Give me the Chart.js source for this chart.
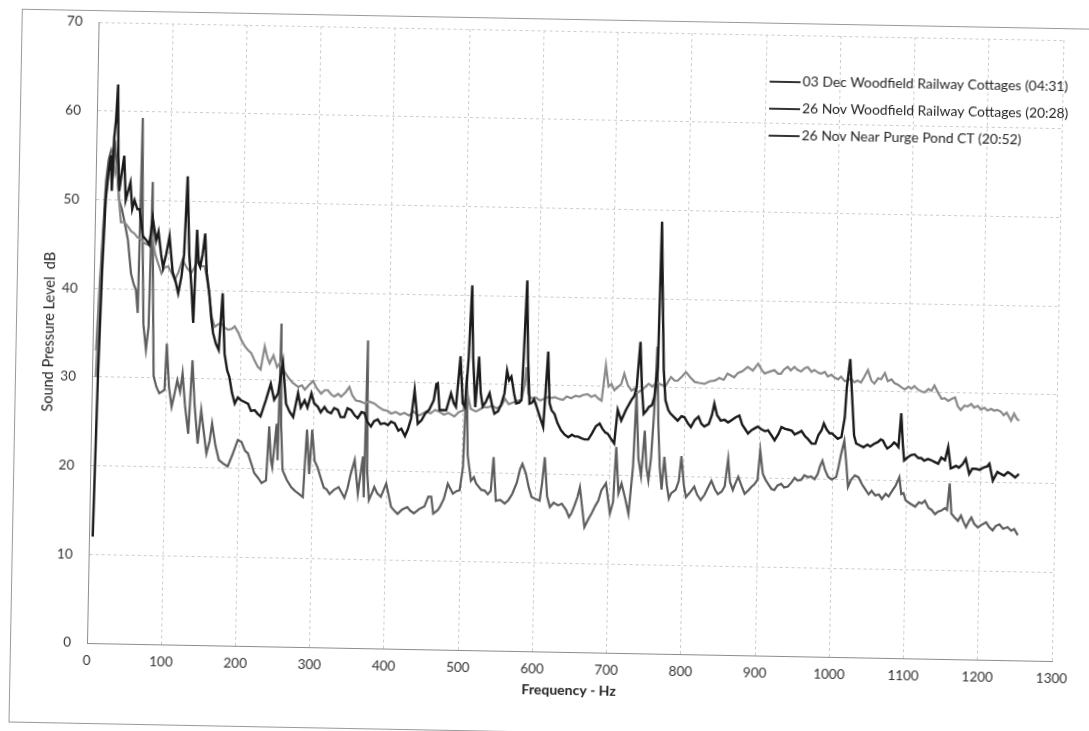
<!DOCTYPE html>
<html>
<head>
<meta charset="utf-8">
<title>Sound Pressure Level - Frequency</title>
<script src="https://cdn.jsdelivr.net/npm/chart.js@4.4.0/dist/chart.umd.min.js"></script>
<style>
  html, body { margin: 0; padding: 0; background: #fff; overflow: hidden; }
  /* the scanned chart sits slightly rotated on the page */
  #frame {
    position: absolute; left: 10px; top: 10px;
    width: 1100px; height: 712px;
    border: 1px solid #9a9a9a;
    background: #fff;
    transform-origin: 77px 633px;
    transform: rotate(1.07deg);
  }
</style>
</head>
<body>
<div id="frame"><canvas id="myChart" width="1100" height="712"></canvas></div>
<script>
'use strict';

const seriesNames = [
  '03 Dec Woodfield Railway Cottages (04:31)',
  '26 Nov Woodfield Railway Cottages (20:28)',
  '26 Nov Near Purge Pond CT (20:52)'
];

const xTicks = [0, 100, 200, 300, 400, 500, 600, 700, 800, 900, 1000, 1100, 1200, 1300];
const yTicks = [0, 10, 20, 30, 40, 50, 60, 70];

// [frequency Hz, level dB]
const dec03 = [
  [5,12],[8,30],[11,42],[14,50],[17,53],[20,55],[22,51],[24,57],[26,59],[28,63],[30,55],[32,51],
  [35,53],[38,55],[41,50],[44,51],[47,52],[50,49],[53,50],[57,49],[60,49],[65,46],[70,45.5],[74,45],
  [78,48],[83,45.5],[86,46.5],[90,44],[93,42.5],[97,44],[101,46],[106,42],[110,41],[114,39.6],[118,41.5],
  [121,44],[124,52.8],[128,44],[132,40],[135,36.3],[138,46.8],[141,43],[143,42.6],[146,44],[149,46.4],
  [152,42],[156,39.6],[159,37],[162,35.2],[166,34],[170,33.3],[174,39.7],[178,32.9],[182,31],[185,30.3],
  [189,28.5],[193,27.3],[197,28],[201,27.7],[206,27.5],[211,27.3],[215,26.5],[220,26.6],[224,26.2],
  [228,25.9],[235,27.8],[241,29.6],[246,27.8],[251,28.5],[257,32],[262,27.4],[267,26.5],[272,25.9],
  [278,28.6],[282,27],[287,27.8],[291,27],[296,28.6],[300,27.5],[305,27.1],[309,26.5],[314,27.1],
  [318,26.6],[323,26.4],[327,27],[332,26.8],[336,26],[341,26],[345,27],[350,26.8],[355,26.2],[359,25.9],
  [364,26.6],[368,26.5],[372,25.5],[377,25],[381,25.6],[386,25.8],[390,25.3],[395,25.4],[400,25.2],
  [404,25.6],[409,25.4],[414,24.6],[418,24.8],[423,24],[427,24.8],[431,26],[435,29.2],[440,25.4],
  [445,25.8],[450,26.6],[455,27],[461,28.1],[464,29.9],[466,30],[469,27],[473,27],[478,27],[484,28.9],
  [488,27.8],[491,27.4],[496,33.1],[500,27.8],[503,27.4],[507,33],[510,41.1],[513,33],[517,27.4],
  [521,33.1],[524,29],[527,27.5],[531,28],[536,29],[540,27.5],[543,26.7],[548,27],[552,27.8],[556,29],
  [559,31.6],[562,30.5],[565,30.9],[569,29],[572,27.9],[576,28],[579,28.3],[581,33],[584,41.8],[587,33],
  [590,27.9],[593,28],[596,28.4],[600,27.5],[604,26.5],[609,25.3],[614,33.8],[617,28],[620,27.2],
  [624,26.8],[628,25.8],[633,25],[638,24.5],[643,24.2],[648,24.5],[652,24.3],[656,24.3],[661,24.1],
  [665,24],[670,24],[675,24.7],[680,25.5],[685,25.8],[689,25.2],[693,24.8],[696,24.7],[700,24.2],
  [705,23.6],[709,27.4],[714,26.2],[720,27.4],[727,28.5],[731,29],[734,30],[738,35.1],[741,30],[744,27],
  [748,27.4],[751,27.8],[755,28],[758,28.9],[762,32.3],[764,48.7],[767,40],[770,32],[773,28.6],[777,27.5],
  [780,27.1],[785,26.7],[790,26.3],[795,26.8],[799,26.7],[804,26],[808,25.6],[813,26.4],[818,26.8],
  [822,26],[826,25.7],[832,26],[836,27],[839,28.3],[843,27],[848,26.4],[853,26.5],[858,26.2],[863,26.5],
  [868,26.8],[873,27],[877,26],[881,25.5],[885,25],[890,25.4],[894,25.6],[898,25.8],[903,25.5],[908,25.3],
  [912,25.4],[917,24.8],[921,24.3],[926,25],[930,25.8],[935,25.6],[940,25.5],[944,25.4],[948,25],
  [953,25.2],[957,25.4],[962,24.8],[966,24.5],[971,24],[976,24],[980,25],[984,25.5],[987,26.3],[991,25.6],
  [995,25.2],[998,25.2],[1002,24.9],[1006,24.6],[1011,24.8],[1015,27],[1017,30.4],[1021,33.6],[1025,28.6],
  [1028,25],[1031,24.1],[1036,23.9],[1041,23.7],[1046,24],[1050,23.8],[1055,24.1],[1060,24.3],[1064,24.6],
  [1067,24.5],[1070,24],[1073,23.6],[1078,23.9],[1082,24.3],[1085,24.1],[1088,23.8],[1091,27.6],[1094,24],
  [1096,22.3],[1100,22.6],[1105,22.9],[1110,23],[1115,22.6],[1119,22.6],[1123,22.3],[1128,22.5],
  [1132,22.4],[1137,22.2],[1142,22],[1146,22.7],[1151,22.4],[1155,23.9],[1159,21.5],[1162,21.6],
  [1166,21.8],[1170,21.6],[1175,22],[1179,22.6],[1184,20.9],[1188,21.5],[1193,21.5],[1198,21.4],
  [1204,21.7],[1208,21.8],[1211,22.1],[1216,20.2],[1222,21.2],[1226,21],[1231,20.8],[1236,21.2],
  [1240,21],[1246,20.6],[1251,21]
];

const nov26Woodfield = [
  [5,30],[8,38],[11,45],[14,50],[17,53],[20,54.5],[23,55.5],[26,53],[29,54],[32,50],[35,47.5],[40,47.5],
  [45,47],[49,46.5],[53,46.3],[58,45.8],[63,45.6],[67,45.2],[72,45],[77,46.3],[82,44],[86,43],[91,41.8],
  [95,42.5],[100,42.6],[104,42],[109,41.1],[114,42],[119,43.4],[125,42.5],[131,41.9],[135,42.5],[140,43.4],
  [145,42.7],[149,42.7],[153,41],[157,38.9],[160,37],[164,35.9],[169,36.2],[173,36.3],[178,35.8],[182,35.6],
  [187,35.7],[191,36],[196,35.3],[200,34.5],[205,33.8],[209,33.4],[214,33],[218,32.3],[223,31.5],[227,31.2],
  [232,33.8],[236,32.5],[239,31.9],[244,32.8],[249,31.5],[253,32],[259,31],[264,30.4],[270,29.8],[278,29.3],
  [283,29.5],[287,29],[292,29.5],[298,30],[303,29.2],[309,28.6],[314,29],[318,29],[323,28.5],[327,28.3],
  [332,28.6],[336,28.3],[342,28.8],[347,29.4],[351,28.5],[356,27.9],[362,27.8],[368,27.6],[374,27.8],
  [381,27.6],[387,27.2],[393,26.9],[399,26.8],[404,26.5],[410,26.7],[416,26.4],[422,26.6],[428,26.3],
  [434,26.8],[440,26.3],[445,26.5],[451,26.8],[457,26.6],[463,27],[469,26.8],[475,26.5],[481,26.7],
  [489,26.3],[495,26.8],[501,27],[506,29],[511,27.2],[518,26.9],[524,27.2],[528,27.4],[534,27.4],
  [540,27.6],[546,27.3],[552,27.6],[557,28.4],[562,27.8],[568,28],[573,28.2],[579,28.3],[583,30],
  [585,32],[588,29],[592,28.5],[598,28.6],[604,28.3],[610,28.5],[615,28.7],[620,28.6],[624,28.7],
  [630,28.5],[635,28.4],[640,28.8],[646,28.6],[652,28.9],[657,28.8],[662,29],[668,29.1],[673,28.8],
  [678,29],[683,28.6],[687,28.4],[692,32.4],[696,30],[700,30.3],[704,29.6],[709,30],[713,30.3],
  [717,31.5],[722,30.2],[727,29.6],[731,29.8],[736,29.4],[741,29.7],[745,30],[750,30.4],[755,30.1],
  [761,30.6],[767,30.3],[773,30.2],[777,30.8],[780,31.2],[785,30.8],[789,30.8],[795,31.3],[800,31.8],
  [806,31.2],[812,30.7],[818,30.6],[825,30.5],[832,30.8],[839,30.9],[845,31.2],[851,31],[856,31.7],
  [865,31.3],[870,31.8],[876,32],[883,32.5],[890,32.1],[897,32.9],[902,32.2],[906,31.8],[912,32],
  [919,32.2],[924,31.8],[928,31.8],[932,32.3],[937,32.6],[941,32.2],[946,32.6],[950,32.3],[955,32.1],
  [960,32.5],[964,32.6],[969,32.1],[973,32.3],[978,32],[982,31.9],[987,32.1],[991,31.6],[996,31.8],
  [1000,31.5],[1005,31.3],[1009,31.6],[1014,31.1],[1018,31.2],[1022,31.4],[1027,31],[1031,31.2],
  [1036,31],[1040,31.6],[1045,32.4],[1050,31.2],[1054,30.9],[1059,31.5],[1063,31.4],[1068,32.1],
  [1072,31.2],[1077,31.4],[1081,31],[1086,30.8],[1091,30.5],[1095,30.3],[1100,30.6],[1104,30.4],
  [1108,30.7],[1113,30.3],[1118,30.1],[1122,30],[1127,30.4],[1131,30.2],[1135,30.8],[1140,30],
  [1145,29.3],[1149,29.4],[1154,29.1],[1158,29.3],[1163,29.5],[1167,28.5],[1171,28.1],[1176,28.6],
  [1180,28.5],[1185,28.8],[1189,28.4],[1194,28.6],[1198,28.2],[1203,28.4],[1207,28.1],[1212,28.3],
  [1216,28.1],[1220,28.2],[1225,28],[1229,27.6],[1233,27.9],[1237,27.3],[1239,27],[1243,27.8],
  [1247,27.2],[1250,27]
];

const nov26PurgePond = [
  [5,33],[8,40],[11,46],[14,52],[17,54.5],[20,55.5],[23,54],[26,55.8],[29,53],[32,50],[36,49],[40,47.5],
  [45,45.5],[50,41.7],[54,40.5],[57,39.9],[60,37.3],[62,59.3],[65,45],[68,36],[72,33.2],[75,35.8],
  [77,52.1],[80,40],[83,30.2],[87,29],[91,28.3],[95,28.5],[98,28.7],[100,33.9],[104,29],[108,26.8],
  [111,28],[115,29.8],[119,28.5],[122,30.6],[126,27],[131,23.8],[135,32.1],[139,27],[144,22.7],[148,26.5],
  [152,24],[156,21.6],[160,23],[163,25],[168,22.5],[173,20.9],[179,20.5],[185,20.2],[191,21.5],[198,23.2],
  [203,23],[208,22],[212,21.7],[217,20.5],[221,19.5],[226,19],[231,18.4],[237,18.7],[240,24.8],[243,21],
  [245,20.2],[250,25.1],[252,21],[254,36.4],[256,25],[259,19.9],[265,18.8],[271,18],[276,17.6],[281,17.3],
  [287,16.9],[291,24.5],[295,19.5],[298,24.5],[302,21],[306,20.3],[311,19],[315,18],[319,17.8],[323,17.3],
  [329,17.8],[335,18.1],[339,17.5],[343,16.9],[347,18],[351,19.6],[356,21.2],[361,17.4],[367,21.6],
  [369,17],[371,34.7],[373,20],[376,16.7],[380,17.5],[383,18.2],[387,17.5],[392,17.1],[399,18.6],
  [406,16],[410,15.6],[415,15.2],[421,15.7],[428,16],[432,15.6],[437,15.3],[444,15.8],[451,16.1],
  [456,17.2],[460,17.2],[463,15.3],[469,15.7],[472,16.1],[477,17],[482,18.7],[489,17.6],[494,17.9],
  [498,18],[502,20.6],[505,31],[508,22],[513,19.1],[517,19.5],[520,18.8],[527,18.1],[532,18],[536,17.6],
  [540,18],[543,21.8],[547,16.9],[553,17],[559,16.6],[564,17],[569,17.7],[575,19],[579,20.5],[582,21.1],
  [587,20],[591,18.5],[595,17.4],[600,17.2],[606,17],[609,19],[612,21.9],[616,17.5],[620,16.3],
  [625,16.8],[631,16.5],[636,16.7],[642,16],[646,15.2],[649,15.6],[653,16.5],[657,17.5],[660,18.6],
  [664,16],[667,14.1],[672,15],[676,15.6],[681,16.5],[685,17.1],[689,18.3],[695,19.1],[701,15.7],
  [705,17],[708,23.2],[712,18],[716,19.1],[721,17.5],[726,15.7],[731,21],[734,29.3],[738,22],[742,20],
  [746,25.1],[749,21],[752,19.5],[755,22],[758,27],[761,34.6],[764,26],[767,21],[770,18.5],[773,22.2],
  [777,19],[780,17.5],[783,18.1],[789,18.5],[793,19.5],[796,22.3],[800,19],[803,17.7],[808,18.2],
  [814,18.9],[818,18],[823,17.4],[828,18],[833,18.9],[837,19.6],[842,18.6],[846,18.1],[851,18.4],
  [855,19],[859,22.1],[862,19.5],[866,18.6],[869,19.3],[873,20.1],[878,19],[882,18.2],[887,18.6],
  [891,19],[895,19.3],[899,19.8],[902,23.1],[906,20.5],[910,19.8],[914,19.3],[918,18.8],[922,18.7],
  [926,19.2],[931,19.4],[935,19],[940,19.1],[945,19.6],[949,20.1],[953,19.8],[958,19.9],[962,20.4],
  [967,20.2],[971,20.3],[976,20],[980,20.6],[983,21.5],[986,22.1],[990,21],[994,20.3],[999,20],
  [1005,20.3],[1008,21.5],[1011,22.9],[1015,24.4],[1018,22],[1021,19.2],[1025,20],[1030,20.5],
  [1035,20.3],[1040,19.5],[1044,19],[1049,18.4],[1053,18.8],[1058,18.3],[1063,18.4],[1067,17.9],
  [1072,18.5],[1076,18.2],[1081,18.9],[1085,19.4],[1088,20],[1090,20.4],[1093,18.5],[1096,18.6],
  [1099,17.8],[1104,17.5],[1108,17.3],[1112,17.1],[1117,17.6],[1121,17.5],[1125,17.8],[1130,17],
  [1134,16.8],[1139,16.3],[1143,16.6],[1147,16.7],[1152,17],[1155,16.8],[1158,19.8],[1161,16.4],
  [1165,16],[1170,15.6],[1174,16.2],[1178,15.4],[1181,14.9],[1185,15.6],[1188,16],[1192,15.3],
  [1197,14.9],[1202,15.2],[1208,15.5],[1212,15],[1217,14.6],[1221,15.1],[1226,15.3],[1231,14.8],
  [1237,15],[1242,14.6],[1246,14.8],[1251,14.1]
];

const FONT = 'Lato, "Liberation Sans", sans-serif';

function toPoints(pairs) {
  return pairs.map(p => ({x: p[0], y: p[1]}));
}

// legend drawn inside the plot, top right
const insideLegend = {
  id: 'insideLegend',
  afterDraw(chart) {
    const ctx = chart.ctx;
    const area = chart.chartArea;
    ctx.save();
    ctx.font = '13.9px ' + FONT;
    ctx.textBaseline = 'middle';
    ctx.textAlign = 'left';
    chart.data.datasets.forEach((ds, i) => {
      const x = area.left + 672;
      const y = area.top + 47 + i * 27;
      ctx.strokeStyle = '#333';
      ctx.lineWidth = 2;
      ctx.beginPath();
      ctx.moveTo(x, y);
      ctx.lineTo(x + 31, y);
      ctx.stroke();
      ctx.fillStyle = '#262626';
      ctx.fillText(ds.label, x + 33, y);
    });
    ctx.restore();
  }
};

const ctx = document.getElementById('myChart');

const myChart = new Chart(ctx, {
  type: 'line',
  data: {
    datasets: [
      {label: seriesNames[0], data: toPoints(dec03), borderColor: '#1b1b1b', borderWidth: 2.4},
      {label: seriesNames[1], data: toPoints(nov26Woodfield), borderColor: '#8a8a8a', borderWidth: 2.2},
      {label: seriesNames[2], data: toPoints(nov26PurgePond), borderColor: '#5e5e5e', borderWidth: 2.2}
    ]
  },
  options: {
    responsive: false,
    animation: false,
    parsing: false,
    elements: {point: {radius: 0}, line: {tension: 0}},
    layout: {padding: {left: 0, top: 11, right: 59, bottom: 0}},
    plugins: {legend: {display: false}, tooltip: {enabled: false}},
    scales: {
      x: {
        type: 'linear',
        min: 0, max: 1300,
        afterBuildTicks: scale => { scale.ticks = xTicks.map(v => ({value: v})); },
        afterFit: scale => { scale.height = 80; scale.paddingLeft = 0; scale.paddingRight = 0; },
        ticks: {color: '#333', font: {family: FONT, size: 13.5}, padding: 10, maxRotation: 0,
                callback: v => String(v)},
        grid: {color: '#cccccc', lineWidth: 1, drawTicks: false},
        border: {display: true, color: '#8c8c8c', width: 1, dash: [3, 3]},
        title: {display: true, text: 'Frequency - Hz', color: '#222',
                font: {family: FONT, size: 14, weight: 'bold'}, padding: {top: 0, bottom: 33}}
      },
      y: {
        type: 'linear',
        min: 0, max: 70,
        afterBuildTicks: scale => { scale.ticks = yTicks.map(v => ({value: v})); },
        afterFit: scale => { scale.width = 76; scale.paddingTop = 0; scale.paddingBottom = 0; },
        ticks: {color: '#333', font: {family: FONT, size: 13.5}, padding: 16, callback: v => String(v)},
        grid: {color: '#cccccc', lineWidth: 1, drawTicks: false},
        border: {display: true, color: '#8c8c8c', width: 1, dash: [3, 3]},
        title: {display: true, text: 'Sound Pressure Level  dB', color: '#222',
                font: {family: FONT, size: 14.5}, padding: {top: 24, bottom: 0}}
      }
    }
  },
  plugins: [insideLegend]
});
</script>
</body>
</html>
